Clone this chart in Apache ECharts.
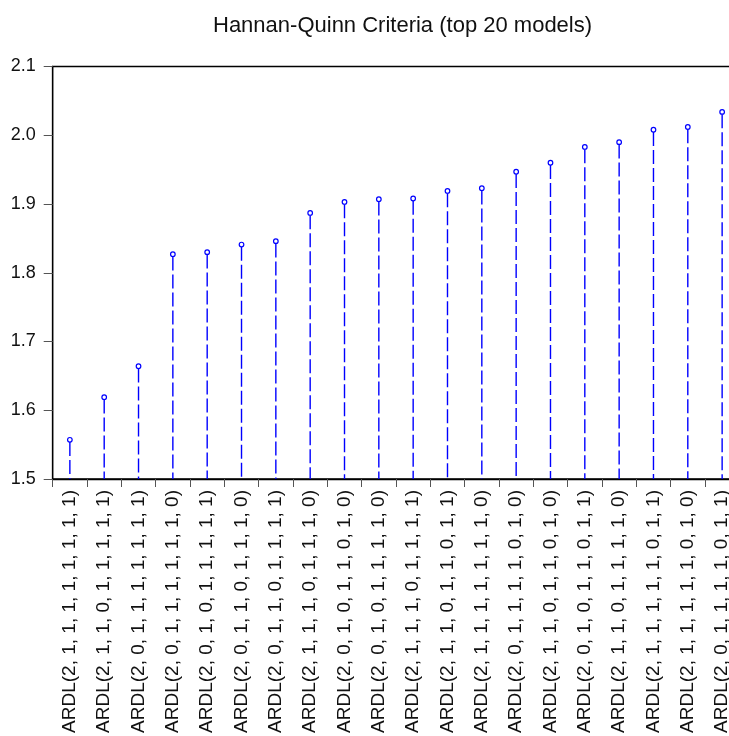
<!DOCTYPE html>
<html>
<head>
<meta charset="utf-8">
<script src="https://cdn.jsdelivr.net/npm/echarts@6/dist/echarts.min.js"></script>
<style>
  html, body { margin: 0; padding: 0; background: #ffffff; overflow: hidden; }
  /* the plot frame runs a little past the right edge of the window */
  #chart { width: 742px; height: 736px; }
</style>
</head>
<body>
<div id="chart"></div>
<script>
// ARDL lag specifications, ranked by Hannan-Quinn criterion (best first)
const modelLabels = [
  'ARDL(2, 1, 1, 1, 1, 1, 1, 1, 1)',
  'ARDL(2, 1, 1, 0, 1, 1, 1, 1, 1)',
  'ARDL(2, 0, 1, 1, 1, 1, 1, 1, 1)',
  'ARDL(2, 0, 1, 1, 1, 1, 1, 1, 0)',
  'ARDL(2, 0, 1, 0, 1, 1, 1, 1, 1)',
  'ARDL(2, 0, 1, 1, 0, 1, 1, 1, 0)',
  'ARDL(2, 0, 1, 1, 0, 1, 1, 1, 1)',
  'ARDL(2, 1, 1, 1, 0, 1, 1, 1, 0)',
  'ARDL(2, 0, 1, 0, 1, 1, 0, 1, 0)',
  'ARDL(2, 0, 1, 0, 1, 1, 1, 1, 0)',
  'ARDL(2, 1, 1, 1, 0, 1, 1, 1, 1)',
  'ARDL(2, 1, 1, 0, 1, 1, 0, 1, 1)',
  'ARDL(2, 1, 1, 1, 1, 1, 1, 1, 0)',
  'ARDL(2, 0, 1, 1, 1, 1, 0, 1, 0)',
  'ARDL(2, 1, 1, 0, 1, 1, 0, 1, 0)',
  'ARDL(2, 0, 1, 0, 1, 1, 0, 1, 1)',
  'ARDL(2, 1, 1, 0, 1, 1, 1, 1, 0)',
  'ARDL(2, 1, 1, 1, 1, 1, 0, 1, 1)',
  'ARDL(2, 1, 1, 1, 1, 1, 0, 1, 0)',
  'ARDL(2, 0, 1, 1, 1, 1, 0, 1, 1)'
];

// Hannan-Quinn criterion value of each model
const hqValues = [
  1.557, 1.619, 1.664, 1.827, 1.830, 1.841, 1.846, 1.887, 1.903, 1.907,
  1.908, 1.919, 1.923, 1.947, 1.960, 1.983, 1.990, 2.008, 2.012, 2.034
];

// value axis range and step
const yMin = 1.5;
const yMax = 2.1;
const yStep = 0.1;

const chart = echarts.init(document.getElementById('chart'), null, { renderer: 'canvas' });

const fontFamily = '"Liberation Sans", Arial, sans-serif';
const stemColor = '#0000ff';

chart.setOption({
  animation: false,
  backgroundColor: '#ffffff',
  title: {
    text: 'Hannan-Quinn Criteria (top 20 models)',
    left: 208,
    top: 10,
    textStyle: { fontFamily, fontSize: 22, fontWeight: 'normal', color: '#111111' }
  },
  grid: {
    left: 52.7,
    top: 66.5,
    right: 2.7,
    bottom: 257,
    show: true,
    borderColor: '#000000',
    borderWidth: 1.3,
    containLabel: false
  },
  xAxis: {
    type: 'category',
    data: modelLabels,
    boundaryGap: true,
    axisLine: { show: true, lineStyle: { color: '#000000', width: 1.3 } },
    axisTick: { show: true, length: 8, lineStyle: { color: '#555555', width: 1 } },
    axisLabel: {
      interval: 0,
      rotate: 90,
      margin: 11,
      fontFamily,
      fontSize: 19,
      color: '#111111'
    },
    splitLine: { show: false }
  },
  yAxis: {
    type: 'value',
    min: yMin,
    max: yMax,
    interval: yStep,
    axisLine: { show: true, lineStyle: { color: '#000000', width: 1.3 } },
    axisTick: { show: true, length: 9, lineStyle: { color: '#555555', width: 1 } },
    axisLabel: {
      margin: 17,
      fontFamily,
      fontSize: 18,
      color: '#111111',
      formatter: (v) => v.toFixed(1)
    },
    splitLine: { show: false }
  },
  series: [{
    type: 'custom',
    data: hqValues.map((v, i) => [i, v]),
    encode: { x: 0, y: 1 },
    renderItem: function (params, api) {
      const idx = api.value(0);
      const top = api.coord([idx, api.value(1)]);
      const base = api.coord([idx, yMin]);
      const r = 2.3;
      return {
        type: 'group',
        children: [
          {
            type: 'line',
            shape: { x1: top[0], y1: top[1] + r, x2: top[0], y2: base[1] },
            style: { stroke: stemColor, lineWidth: 1.4, lineDash: [14, 4] }
          },
          {
            type: 'circle',
            shape: { cx: top[0], cy: top[1], r: r },
            style: { fill: '#ffffff', stroke: stemColor, lineWidth: 1.2 }
          }
        ]
      };
    }
  }]
});
</script>
</body>
</html>
